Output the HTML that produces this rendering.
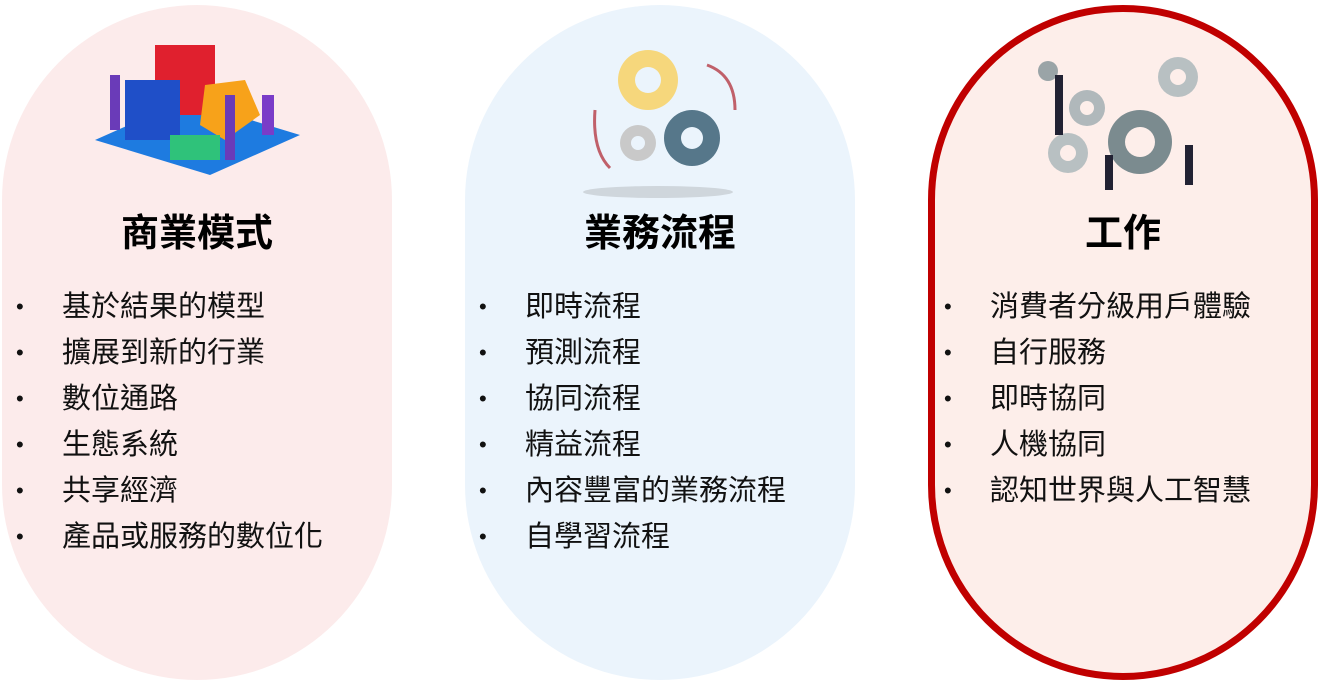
<!DOCTYPE html>
<html><head><meta charset="utf-8"><style>
body{margin:0;width:1324px;height:685px;background:#fff;position:relative;overflow:hidden;font-family:"Liberation Sans","Noto Sans CJK TC",sans-serif}
.cap{position:absolute;top:5px;width:390px;height:675px;border-radius:195px;box-sizing:border-box}
.t{position:absolute;width:390px;text-align:center;top:202px;font-size:38px;font-weight:bold;color:#000}
ul{position:absolute;top:285px;margin:0;padding:0;list-style:none}
li{font-size:29px;height:46px;line-height:44px;position:relative;padding-left:60px;color:#111;white-space:nowrap}
li:before{content:"•";position:absolute;left:14px;font-size:22px}
</style></head><body>
<div class="cap" style="left:2px;background:#fcebeb"></div>
<div class="cap" style="left:465px;background:#ebf4fc"></div>
<div class="cap" style="left:928px;background:#fdeeea;border:7px solid #c00000"></div>

<svg style="position:absolute;left:90px;top:40px" width="215" height="135">
<polygon points="5,100 95,60 210,95 120,135" fill="#1e7be0"/>
<rect x="65" y="5" width="60" height="70" fill="#e0202e"/>
<rect x="35" y="40" width="55" height="60" fill="#1f4fc8"/>
<polygon points="115,45 155,40 170,75 135,100 110,85" fill="#f7a21a"/>
<rect x="80" y="95" width="50" height="25" fill="#2fc27a"/>
<rect x="20" y="35" width="10" height="55" fill="#6a3bb8"/>
<rect x="135" y="55" width="10" height="65" fill="#6a3bb8"/>
<rect x="172" y="55" width="12" height="40" fill="#7a3cc8"/>
</svg>
<svg style="position:absolute;left:580px;top:40px" width="160" height="160">
<circle cx="68" cy="40" r="30" fill="#f6d77c"/><circle cx="68" cy="40" r="13" fill="#ebf4fc"/>
<circle cx="112" cy="98" r="28" fill="#56778a"/><circle cx="112" cy="98" r="11" fill="#ebf4fc"/>
<circle cx="58" cy="103" r="18" fill="#c9c9c9"/><circle cx="58" cy="103" r="7" fill="#ebf4fc"/>
<ellipse cx="78" cy="152" rx="75" ry="6" fill="#cfd6dc"/>
<path d="M155,70 Q155,35 127,25" stroke="#c0606a" stroke-width="3" fill="none"/>
<path d="M15,70 Q12,110 30,128" stroke="#c0606a" stroke-width="3" fill="none"/>
</svg>
<svg style="position:absolute;left:1030px;top:45px" width="190" height="150">
<circle cx="110" cy="97" r="32" fill="#7b8b8f"/><circle cx="110" cy="97" r="15" fill="#fdeeea"/>
<circle cx="57" cy="63" r="18" fill="#b0b8bb"/><circle cx="57" cy="63" r="7" fill="#fdeeea"/>
<circle cx="38" cy="108" r="20" fill="#b8c0c2"/><circle cx="38" cy="108" r="8" fill="#fdeeea"/>
<circle cx="148" cy="32" r="20" fill="#b8c0c2"/><circle cx="148" cy="32" r="8" fill="#fdeeea"/>
<circle cx="18" cy="26" r="10" fill="#9aa4a7"/>
<rect x="25" y="30" width="8" height="60" fill="#223"/>
<rect x="155" y="100" width="8" height="40" fill="#223"/>
<rect x="75" y="110" width="8" height="35" fill="#223"/>
</svg>

<div class="t" style="left:2px">商業模式</div>
<div class="t" style="left:465px">業務流程</div>
<div class="t" style="left:928px">工作</div>

<ul style="left:2px"><li>基於結果的模型</li><li>擴展到新的行業</li><li>數位通路</li><li>生態系統</li><li>共享經濟</li><li>產品或服務的數位化</li></ul>
<ul style="left:465px"><li>即時流程</li><li>預測流程</li><li>協同流程</li><li>精益流程</li><li>內容豐富的業務流程</li><li>自學習流程</li></ul>
<ul style="left:930px"><li>消費者分級用戶體驗</li><li>自行服務</li><li>即時協同</li><li>人機協同</li><li>認知世界與人工智慧</li></ul>
</body></html>
